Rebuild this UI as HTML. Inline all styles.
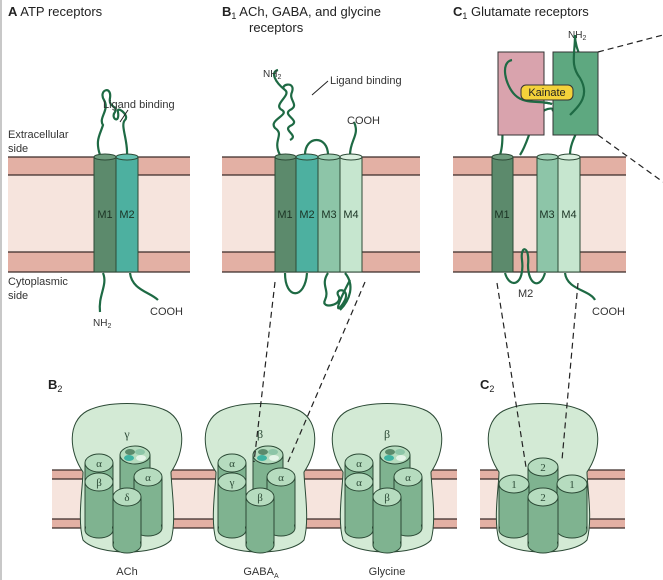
<!DOCTYPE html>
<html><head><meta charset="utf-8"><style>
html,body{margin:0;padding:0;background:#fff;}
svg{display:block;font-family:"Liberation Sans",sans-serif;}
</style></head><body>
<svg width="663" height="580" viewBox="0 0 663 580">
<defs>
<g id="blob"><path d="M-44,540 C-50,520 -44,485 -44,472 C-58,452 -60,422 -40,411 C-20,401 20,401 40,411 C60,422 58,452 44,472 C44,485 50,520 44,540 C30,556 -30,556 -44,540 Z" fill="#d3ead5" stroke="#2c4a36" stroke-width="1"/></g>
</defs>
<rect x="0" y="0" width="2" height="580" fill="#c8c8c8"/>
<g font-size="13" fill="#222">
<text x="8" y="16"><tspan font-weight="bold">A</tspan>  ATP receptors</text>
<text x="222" y="16"><tspan font-weight="bold">B</tspan><tspan font-size="9" dy="3">1</tspan><tspan dy="-3">  ACh, GABA, and glycine</tspan></text>
<text x="249" y="32">receptors</text>
<text x="453" y="16"><tspan font-weight="bold">C</tspan><tspan font-size="9" dy="3">1</tspan><tspan dy="-3">  Glutamate receptors</tspan></text>
</g>
<!-- top membranes -->
<g>
<g><rect x="8" y="157" width="182" height="115" fill="#f6e4dd"/><rect x="8" y="157" width="182" height="18" fill="#e3b0a4"/><rect x="8" y="252" width="182" height="20" fill="#e3b0a4"/><g stroke="#3a2a28" stroke-width="1.2"><line x1="8" y1="157" x2="190" y2="157"/><line x1="8" y1="175" x2="190" y2="175"/><line x1="8" y1="252" x2="190" y2="252"/><line x1="8" y1="272" x2="190" y2="272"/></g></g>
<g><rect x="222" y="157" width="198" height="115" fill="#f6e4dd"/><rect x="222" y="157" width="198" height="18" fill="#e3b0a4"/><rect x="222" y="252" width="198" height="20" fill="#e3b0a4"/><g stroke="#3a2a28" stroke-width="1.2"><line x1="222" y1="157" x2="420" y2="157"/><line x1="222" y1="175" x2="420" y2="175"/><line x1="222" y1="252" x2="420" y2="252"/><line x1="222" y1="272" x2="420" y2="272"/></g></g>
<g><rect x="453" y="157" width="173" height="115" fill="#f6e4dd"/><rect x="453" y="157" width="173" height="18" fill="#e3b0a4"/><rect x="453" y="252" width="173" height="20" fill="#e3b0a4"/><g stroke="#3a2a28" stroke-width="1.2"><line x1="453" y1="157" x2="626" y2="157"/><line x1="453" y1="175" x2="626" y2="175"/><line x1="453" y1="252" x2="626" y2="252"/><line x1="453" y1="272" x2="626" y2="272"/></g></g>
</g>
<g font-size="11" fill="#333">
<text x="8" y="138">Extracellular</text><text x="8" y="152">side</text>
<text x="8" y="285">Cytoplasmic</text><text x="8" y="299">side</text>
</g>
<!-- chain curves -->
<g fill="none" stroke="#1e6a44" stroke-width="2.2">
<path d="M100,155 C95,140 100,135 103,125 C98,118 110,110 104,100 C98,90 112,85 110,98 C108,108 118,105 115,112 C110,118 120,125 118,112 C116,105 130,115 125,120 C120,125 128,140 127,155"/>
<path d="M103,273 C108,285 98,295 100,312"/>
<path d="M130,273 C132,290 150,292 158,300"/>
<path d="M280,155 C272,140 285,135 275,128 C268,120 290,115 282,110 C272,105 292,95 285,90 C278,85 296,80 292,92 C288,100 300,105 290,110 C282,115 300,120 292,125 C280,130 300,135 290,140 M285,90 C275,82 270,72 278,70"/>
<path d="M305,155 C305,135 328,135 328,155"/>
<path d="M350,155 C350,140 360,135 354,122"/>
<path d="M285,273 C285,300 305,300 307,273"/>
<path d="M328,273 C320,285 330,290 325,300 C320,310 345,305 338,295 C335,288 350,288 345,300 C340,310 330,318 350,280 M345,273 C355,285 350,300 340,310"/>
<path d="M500,155 C505,140 500,120 505,100 C510,75 520,60 512,60 C500,62 505,85 515,95 C525,105 540,100 552,104"/>
<path d="M520,155 C530,140 530,120 545,110 C555,105 560,115 552,110"/>
<path d="M570,155 C570,140 580,130 583,115 C590,95 570,90 580,78 C590,65 575,55 575,35"/>
<path d="M505,273 C510,290 525,285 522,260 C520,245 530,245 528,265 C528,285 540,290 545,273"/>
<path d="M565,273 C567,290 590,290 595,300"/>
</g>
<g font-size="10" fill="#333">
<text x="103" y="108" font-size="11">Ligand binding</text><line x1="128" y1="110" x2="120" y2="122" stroke="#222"/>
<text x="93" y="326">NH<tspan font-size="7" dy="2">2</tspan></text>
<text x="150" y="315" font-size="11">COOH</text>
<text x="263" y="77">NH<tspan font-size="7" dy="2">2</tspan></text>
<text x="330" y="84" font-size="11">Ligand binding</text><line x1="328" y1="81" x2="312" y2="95" stroke="#222"/>
<text x="347" y="124" font-size="11">COOH</text>
<text x="568" y="38">NH<tspan font-size="7" dy="2">2</tspan></text>
<text x="518" y="297" font-size="11">M2</text>
<text x="592" y="315" font-size="11">COOH</text>
</g>
<!-- kainate boxes -->
<g>
<rect x="498" y="52" width="46" height="83" fill="#d9a3ad" stroke="#333" stroke-width="1"/>
<rect x="553" y="52" width="45" height="83" fill="#5ea880" stroke="#333" stroke-width="1"/>
<path d="M512,60 C500,62 505,85 515,95 C525,105 540,100 552,104 M570,115 C580,105 590,95 580,78 C570,65 575,55 575,35" fill="none" stroke="#1e6a44" stroke-width="2.2"/>
<rect x="521" y="85" width="52" height="15" rx="5" fill="#f4d23a" stroke="#333"/>
<text x="547" y="96" font-size="11" text-anchor="middle" fill="#222">Kainate</text>
<g stroke="#222" stroke-width="1.2" stroke-dasharray="6,4"><line x1="598" y1="52" x2="663" y2="35"/><line x1="598" y1="135" x2="663" y2="182"/></g>
</g>
<!-- helices -->
<g font-size="11" fill="#1b3324" text-anchor="middle">
<rect x="94" y="157" width="22" height="115" fill="#5c8a6c" stroke="#2c4a36"/><ellipse cx="105" cy="157" rx="11" ry="3" fill="#6f9c7e" stroke="#2c4a36"/><text x="105" y="218">M1</text>
<rect x="116" y="157" width="22" height="115" fill="#4db0a0" stroke="#2c4a36"/><ellipse cx="127" cy="157" rx="11" ry="3" fill="#63c0b0" stroke="#2c4a36"/><text x="127" y="218">M2</text>
<rect x="275" y="157" width="21" height="115" fill="#5c8a6c" stroke="#2c4a36"/><ellipse cx="285.5" cy="157" rx="10.5" ry="3" fill="#6f9c7e" stroke="#2c4a36"/><text x="285" y="218">M1</text>
<rect x="296" y="157" width="22" height="115" fill="#4db0a0" stroke="#2c4a36"/><ellipse cx="307" cy="157" rx="11" ry="3" fill="#63c0b0" stroke="#2c4a36"/><text x="307" y="218">M2</text>
<rect x="318" y="157" width="22" height="115" fill="#8dc5a8" stroke="#2c4a36"/><ellipse cx="329" cy="157" rx="11" ry="3" fill="#a3d2b8" stroke="#2c4a36"/><text x="329" y="218">M3</text>
<rect x="340" y="157" width="22" height="115" fill="#c6e6cf" stroke="#2c4a36"/><ellipse cx="351" cy="157" rx="11" ry="3" fill="#dcf0e1" stroke="#2c4a36"/><text x="351" y="218">M4</text>
<rect x="492" y="157" width="21" height="115" fill="#5c8a6c" stroke="#2c4a36"/><ellipse cx="502.5" cy="157" rx="10.5" ry="3" fill="#6f9c7e" stroke="#2c4a36"/><text x="502" y="218">M1</text>
<rect x="537" y="157" width="21" height="115" fill="#8dc5a8" stroke="#2c4a36"/><ellipse cx="547.5" cy="157" rx="10.5" ry="3" fill="#a3d2b8" stroke="#2c4a36"/><text x="547" y="218">M3</text>
<rect x="558" y="157" width="22" height="115" fill="#c6e6cf" stroke="#2c4a36"/><ellipse cx="569" cy="157" rx="11" ry="3" fill="#dcf0e1" stroke="#2c4a36"/><text x="569" y="218">M4</text>
</g>
<!-- bottom membranes -->
<g>
<rect x="52" y="470" width="405" height="58" fill="#f6e4dd"/><rect x="52" y="470" width="405" height="9" fill="#e3b0a4"/><rect x="52" y="519" width="405" height="9" fill="#e3b0a4"/>
<g stroke="#3a2a28" stroke-width="1.2"><line x1="52" y1="470" x2="457" y2="470"/><line x1="52" y1="479" x2="457" y2="479"/><line x1="52" y1="519" x2="457" y2="519"/><line x1="52" y1="528" x2="457" y2="528"/></g>
<rect x="480" y="470" width="145" height="58" fill="#f6e4dd"/><rect x="480" y="470" width="145" height="9" fill="#e3b0a4"/><rect x="480" y="519" width="145" height="9" fill="#e3b0a4"/>
<g stroke="#3a2a28" stroke-width="1.2"><line x1="480" y1="470" x2="625" y2="470"/><line x1="480" y1="479" x2="625" y2="479"/><line x1="480" y1="519" x2="625" y2="519"/><line x1="480" y1="528" x2="625" y2="528"/></g>
</g>
<text x="48" y="389" font-size="13" fill="#222"><tspan font-weight="bold">B</tspan><tspan font-size="9" dy="3">2</tspan></text>
<text x="480" y="389" font-size="13" fill="#222"><tspan font-weight="bold">C</tspan><tspan font-size="9" dy="3">2</tspan></text>
<g id="recs"></g>
<g stroke="#222" stroke-width="1.2" stroke-dasharray="6,4">
<line x1="275" y1="282" x2="254" y2="462"/><line x1="365" y1="282" x2="288" y2="462"/>
<line x1="497" y1="283" x2="526" y2="467"/><line x1="578" y1="283" x2="562" y2="460"/>
</g>
<g font-size="11" fill="#333" text-anchor="middle">
<text x="127" y="575">ACh</text><text x="261" y="575">GABA<tspan font-size="7" dy="3">A</tspan></text><text x="387" y="575">Glycine</text>
</g>
</svg>
<script>
const NS="http://www.w3.org/2000/svg";
const recs=document.getElementById('recs');
function mk(tag,attrs,parent){const e=document.createElementNS(NS,tag);for(const k in attrs)e.setAttribute(k,attrs[k]);parent.appendChild(e);return e;}
function cyl(g,x,y,rx,bottom,label){
  mk('rect',{x:x-rx,y:y,width:2*rx,height:bottom-y,fill:'#7fb390',stroke:'#2c4a36','stroke-width':1},g);
  mk('ellipse',{cx:x,cy:bottom,rx:rx,ry:8,fill:'#7fb390',stroke:'#2c4a36','stroke-width':1},g);
  mk('rect',{x:x-rx+1,y:y,width:2*rx-2,height:bottom-y,fill:'#7fb390'},g);
  mk('ellipse',{cx:x,cy:y,rx:rx,ry:9,fill:'#b6dcbf',stroke:'#2c4a36','stroke-width':1},g);
  if(label){const t=mk('text',{x:x,y:y+4,'font-size':11,'text-anchor':'middle',fill:'#2c4a36','font-family':'Liberation Serif, serif'},g);t.textContent=label;}
}
function pattern(g,x,y){
  cyl(g,x,y,15,525,'');
  mk('ellipse',{cx:x-5,cy:y-3,rx:5,ry:3,fill:'#5c8a6c'},g);
  mk('ellipse',{cx:x+5,cy:y-3,rx:5,ry:3,fill:'#8dc5a8'},g);
  mk('ellipse',{cx:x-6,cy:y+3,rx:5,ry:3,fill:'#3fb3a2'},g);
  mk('ellipse',{cx:x+6,cy:y+3,rx:5,ry:3,fill:'#e4f4e8'},g);
}
const recDefs=[
 {name:'ach-receptor',cx:127,top:'γ',subs:['α','β','α','δ']},
 {name:'gaba-receptor',cx:260,top:'β',subs:['α','γ','α','β']},
 {name:'glycine-receptor',cx:387,top:'β',subs:['α','α','α','β']}
];
recDefs.forEach(r=>{
  const g=mk('g',{transform:'translate('+r.cx+',0)'},recs);
  
  
  const b=mk('use',{href:'#blob'},g);
  const t=mk('text',{x:0,y:438,'font-size':12,'text-anchor':'middle',fill:'#2c4a36','font-family':'Liberation Serif, serif'},g);t.textContent=r.top;
  pattern(g,8,455);
  cyl(g,-28,463,14,522,r.subs[0]);
  cyl(g,-28,482,14,530,r.subs[1]);
  cyl(g,21,477,14,528,r.subs[2]);
  cyl(g,0,497,14,545,r.subs[3]);
});
const gg=mk('g',{transform:'translate(543,0)'},recs);


mk('use',{href:'#blob'},gg);
cyl(gg,0,467,15,522,'2');
cyl(gg,-29,484,15,530,'1');
cyl(gg,29,484,15,530,'1');
cyl(gg,0,497,15,545,'2');
</script>
</body></html>
